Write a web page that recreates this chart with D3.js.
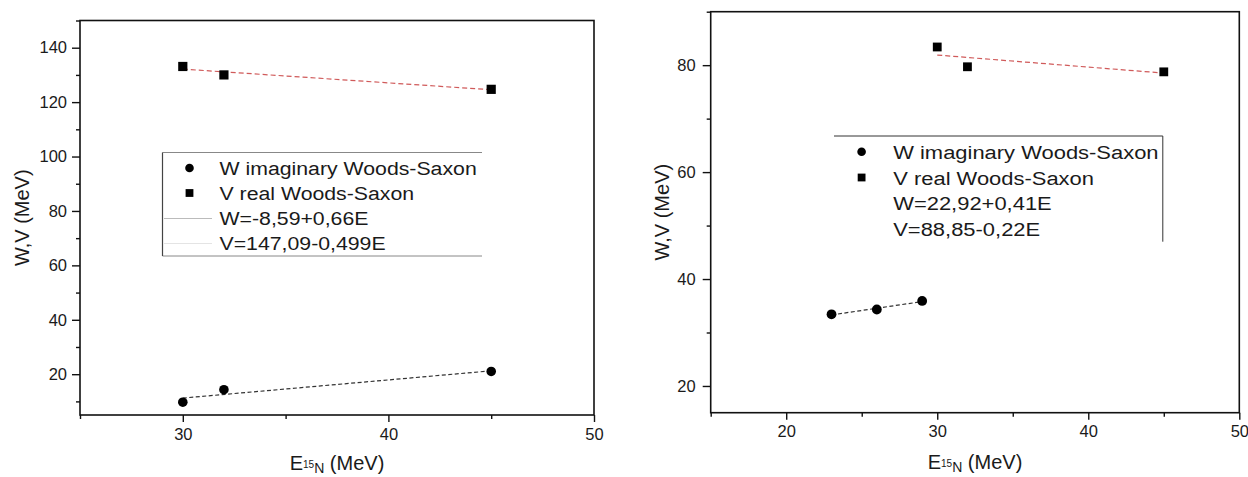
<!DOCTYPE html>
<html>
<head>
<meta charset="utf-8">
<script src="https://cdn.jsdelivr.net/npm/d3@7"></script>
<style>
  body { margin: 0; background: #fff; }
  text { font-family: "Liberation Sans", Arial, sans-serif; }
</style>
</head>
<body>
<div id="chart"></div>
<script>
// Left panel data (E in MeV)
var leftE = [30, 32, 45];
var leftW = [9.7, 14.3, 21.0];
var leftV = [133.1, 130.0, 124.7];

// Right panel data
var rightEW = [23, 26, 29];
var rightW = [33.4, 34.3, 35.9];
var rightEV = [30, 32, 45];
var rightV = [83.4, 79.7, 78.75];

// Tick values
var leftXTicks = [30, 40, 50];
var leftXMinor = [25, 35, 45];
var leftYTicks = [20, 40, 60, 80, 100, 120, 140];
var leftYMinor = [10, 30, 50, 70, 90, 110, 130, 150];
var rightXTicks = [20, 30, 40, 50];
var rightXMinor = [15, 25, 35, 45];
var rightYTicks = [20, 40, 60, 80];
var rightYMinor = [30, 50, 70, 90];

// Legend texts
var leftLegend = ["W imaginary Woods-Saxon", "V real Woods-Saxon", "W=-8,59+0,66E", "V=147,09-0,499E"];
var rightLegend = ["W imaginary Woods-Saxon", "V real Woods-Saxon", "W=22,92+0,41E", "V=88,85-0,22E"];

var svg = d3.select("#chart")
  .append("svg")
  .attr("width", 1248)
  .attr("height", 477);

// least squares line through the points
function fitLine(xs, ys) {
  var mx = d3.mean(xs), my = d3.mean(ys);
  var sxy = d3.sum(xs, (x, i) => (x - mx) * (ys[i] - my));
  var sxx = d3.sum(xs, x => (x - mx) * (x - mx));
  var b = sxy / sxx;
  var a = my - b * mx;
  var x0 = d3.min(xs), x1 = d3.max(xs);
  return [[x0, a + b * x0], [x1, a + b * x1]];
}

function drawPanel(p) {
  var x = d3.scaleLinear().domain(p.xDomain).range([p.left, p.right]);
  var y = d3.scaleLinear().domain(p.yDomain).range([p.bottom, p.top]);
  var g = svg.append("g");

  // minor ticks
  g.append("g")
    .attr("transform", `translate(0, ${p.bottom})`)
    .call(d3.axisBottom(x).tickValues(p.xMinor).tickSize(4).tickSizeOuter(0).tickFormat(""))
    .call(a => a.select(".domain").remove());
  g.append("g")
    .attr("transform", `translate(${p.left}, 0)`)
    .call(d3.axisLeft(y).tickValues(p.yMinor).tickSize(4).tickSizeOuter(0).tickFormat(""))
    .call(a => a.select(".domain").remove());

  // major ticks + labels
  var xAxis = g.append("g")
    .attr("transform", `translate(0, ${p.bottom})`)
    .call(d3.axisBottom(x).tickValues(p.xTicks).tickSize(7).tickPadding(6).tickSizeOuter(0));
  xAxis.select(".domain").remove();
  var yAxis = g.append("g")
    .attr("transform", `translate(${p.left}, 0)`)
    .call(d3.axisLeft(y).tickValues(p.yTicks).tickSize(8).tickPadding(p.yPad).tickSizeOuter(0));
  yAxis.select(".domain").remove();

  g.selectAll(".tick line").attr("stroke", "#111").attr("stroke-width", 1.4);
  g.selectAll(".tick text")
    .attr("font-family", "Liberation Sans, Arial, sans-serif")
    .attr("font-size", "16.5px")
    .attr("fill", "#1a1a1a");

  // frame
  g.append("rect")
    .attr("x", p.left)
    .attr("y", p.top)
    .attr("width", p.right - p.left)
    .attr("height", p.bottom - p.top)
    .attr("fill", "none")
    .attr("stroke", "#111")
    .attr("stroke-width", 1.6);

  // fit lines
  var line = d3.line().x(d => x(d[0])).y(d => y(d[1]));
  g.append("path")
    .attr("d", line(fitLine(p.eW, p.w)))
    .attr("fill", "none")
    .attr("stroke", "#333")
    .attr("stroke-width", 1.2)
    .attr("stroke-dasharray", "4,2.5");
  g.append("path")
    .attr("d", line(fitLine(p.eV, p.v)))
    .attr("fill", "none")
    .attr("stroke", "#d05a5a")
    .attr("stroke-width", 1.2)
    .attr("stroke-dasharray", "5,3");

  // W points (circles)
  g.selectAll(".wpt")
    .data(p.eW)
    .enter()
    .append("circle")
    .attr("cx", d => x(d))
    .attr("cy", (d, i) => y(p.w[i]))
    .attr("r", p.r)
    .attr("fill", "#000");

  // V points (squares)
  g.selectAll(".vpt")
    .data(p.eV)
    .enter()
    .append("rect")
    .attr("x", d => x(d) - p.sq / 2)
    .attr("y", (d, i) => y(p.v[i]) - p.sq / 2)
    .attr("width", p.sq)
    .attr("height", p.sq)
    .attr("fill", "#000");

  // axis titles
  g.append("text")
    .attr("transform", `translate(${p.left - p.yTitleOff}, ${(p.top + p.bottom) / 2}) rotate(-90)`)
    .attr("text-anchor", "middle")
    .attr("dy", "0.35em")
    .attr("font-size", "20px")
    .attr("fill", "#1a1a1a")
    .text("W,V (MeV)");

  var xt = g.append("text")
    .attr("x", (p.left + p.right) / 2)
    .attr("y", p.xTitleY)
    .attr("text-anchor", "middle")
    .attr("font-size", "20px")
    .attr("fill", "#1a1a1a");
  xt.append("tspan").text("E");
  xt.append("tspan").attr("font-size", "10px").attr("dy", -2).text("15");
  xt.append("tspan").attr("font-size", "14px").attr("dy", 5).text("N");
  xt.append("tspan").attr("dy", -3).text(" (MeV)");

  // legend
  var lg = g.append("g");
  p.legendFrame(lg);
  p.legend.forEach(function(t, i) {
    var cy = p.legY + i * p.legStep;
    lg.append("text")
      .attr("transform", `translate(${p.legTextX}, ${cy + 7}) scale(${p.legScale}, 1)`)
      .attr("font-size", "19px")
      .attr("fill", "#1a1a1a")
      .text(t);
  });
  lg.append("circle")
    .attr("cx", p.legMarkX)
    .attr("cy", p.legY)
    .attr("r", 4.3)
    .attr("fill", "#000");
  lg.append("rect")
    .attr("x", p.legMarkX - 3.9)
    .attr("y", p.legY + p.legStep - 3.9)
    .attr("width", 7.8)
    .attr("height", 7.8)
    .attr("fill", "#000");
}

// Left panel
drawPanel({
  left: 80, right: 594, top: 20.5, bottom: 415,
  xDomain: [25, 50], yDomain: [5, 150],
  xTicks: leftXTicks, xMinor: leftXMinor, yTicks: leftYTicks, yMinor: leftYMinor,
  yPad: 5, yTitleOff: 58, xTitleY: 470,
  eW: leftE, w: leftW, eV: leftE, v: leftV,
  r: 4.8, sq: 9.2,
  legend: leftLegend, legY: 168, legStep: 25, legTextX: 219.5, legMarkX: 189.5, legScale: 1.12,
  legendFrame: function(lg) {
    lg.append("line").attr("x1", 162.5).attr("x2", 482).attr("y1", 152.5).attr("y2", 152.5)
      .attr("stroke", "#888").attr("stroke-width", 1);
    lg.append("line").attr("x1", 162.5).attr("x2", 482).attr("y1", 256).attr("y2", 256)
      .attr("stroke", "#888").attr("stroke-width", 1);
    lg.append("line").attr("x1", 162.5).attr("x2", 162.5).attr("y1", 152.5).attr("y2", 256)
      .attr("stroke", "#444").attr("stroke-width", 1.2);
    lg.append("line").attr("x1", 164).attr("x2", 212).attr("y1", 218.5).attr("y2", 218.5)
      .attr("stroke", "#bbb").attr("stroke-width", 1);
    lg.append("line").attr("x1", 164).attr("x2", 212).attr("y1", 243.5).attr("y2", 243.5)
      .attr("stroke", "#e4e4e4").attr("stroke-width", 1);
  }
});

// Right panel
drawPanel({
  left: 710.7, right: 1239.3, top: 11.7, bottom: 412.7,
  xDomain: [15, 50], yDomain: [15, 90],
  xTicks: rightXTicks, xMinor: rightXMinor, yTicks: rightYTicks, yMinor: rightYMinor,
  yPad: 7, yTitleOff: 49, xTitleY: 469,
  eW: rightEW, w: rightW, eV: rightEV, v: rightV,
  r: 4.9, sq: 8.8,
  legend: rightLegend, legY: 151.7, legStep: 25.8, legTextX: 893.2, legMarkX: 861.6, legScale: 1.155,
  legendFrame: function(lg) {
    lg.append("line").attr("x1", 834).attr("x2", 1162.8).attr("y1", 136).attr("y2", 136)
      .attr("stroke", "#333").attr("stroke-width", 1);
    lg.append("line").attr("x1", 1162.8).attr("x2", 1162.8).attr("y1", 136).attr("y2", 241.7)
      .attr("stroke", "#333").attr("stroke-width", 1);
  }
});
</script>
</body>
</html>
